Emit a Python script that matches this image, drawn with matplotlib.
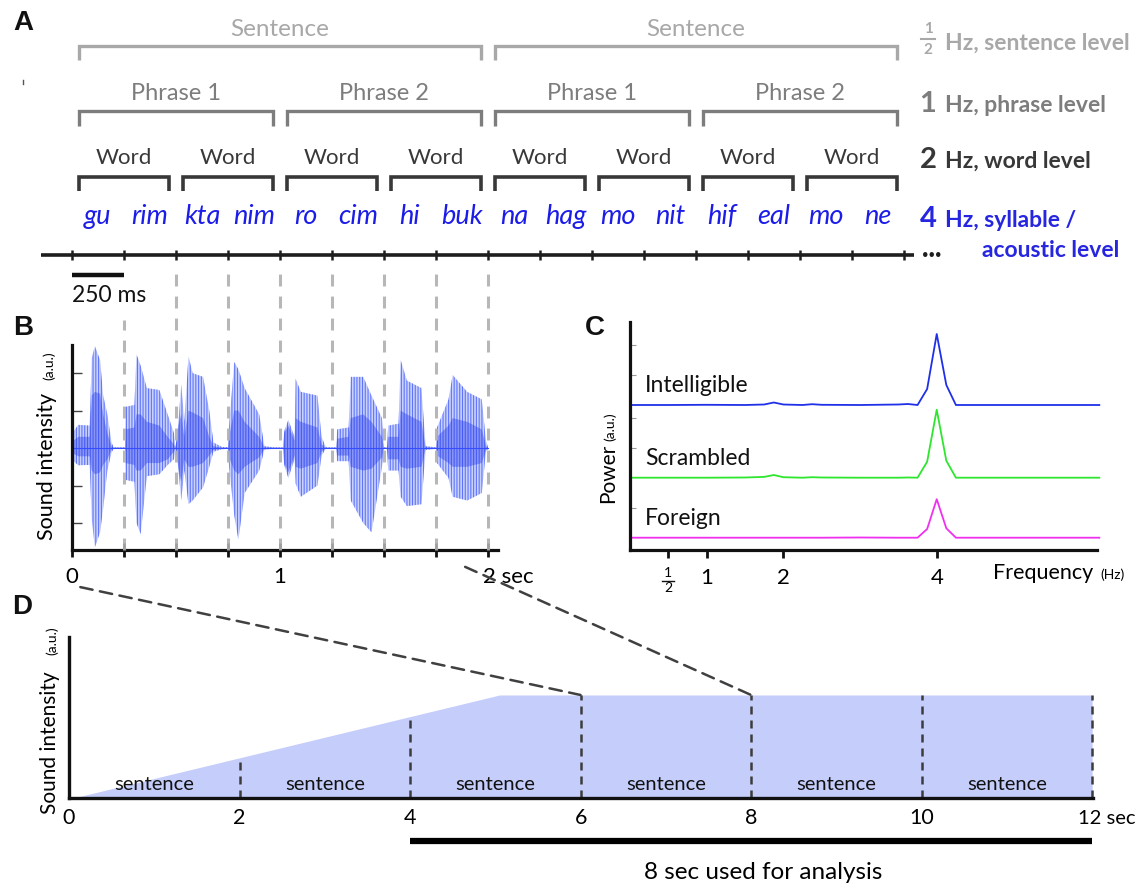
import numpy as np
import matplotlib
matplotlib.use("Agg")
import matplotlib.pyplot as plt
from matplotlib.patches import ConnectionPatch
from matplotlib.lines import Line2D

plt.rcParams['font.family'] = ['Lato', 'DejaVu Sans']
plt.rcParams['hatch.linewidth'] = 0.8

# ---------------- Panel A data ----------------
syllables = ['gu', 'rim', 'kta', 'nim', 'ro', 'cim', 'hi', 'buk',
             'na', 'hag', 'mo', 'nit', 'hif', 'eal', 'mo', 'ne']
syllable_onsets = [0.0, 0.25, 0.5, 0.75, 1.0, 1.25, 1.5, 1.75,
                   2.0, 2.25, 2.5, 2.75, 3.0, 3.25, 3.5, 3.75]
syllable_bounds = [0.0, 0.25, 0.5, 0.75, 1.0, 1.25, 1.5, 1.75, 2.0,
                   2.25, 2.5, 2.75, 3.0, 3.25, 3.5, 3.75, 4.0]
word_bounds = [0.0, 0.5, 1.0, 1.5, 2.0, 2.5, 3.0, 3.5, 4.0]
word_labels = ['Word'] * 8
phrase_bounds = [0.0, 1.0, 2.0, 3.0, 4.0]
phrase_labels = ['Phrase 1', 'Phrase 2', 'Phrase 1', 'Phrase 2']
sentence_bounds = [0.0, 2.0, 4.0]
sentence_labels = ['Sentence', 'Sentence']
scale_bar_s = [0.0, 0.25]
scale_bar_label = '250 ms'

# ---------------- Panel B data (waveform envelope) ----------------
wave_t = [0.000, 0.008, 0.030, 0.085, 0.095, 0.110, 0.135, 0.150, 0.170, 0.190, 0.200,
          0.255, 0.258, 0.300, 0.310, 0.330, 0.360, 0.420, 0.460, 0.490, 0.497,
          0.505, 0.512, 0.525, 0.540, 0.560, 0.580, 0.630, 0.660, 0.680, 0.720,
          0.750, 0.755, 0.780, 0.800, 0.830, 0.900, 0.925, 0.970,
          1.015, 1.020, 1.040, 1.070, 1.075, 1.100, 1.180, 1.200, 1.220,
          1.270, 1.275, 1.330, 1.340, 1.400, 1.440, 1.490, 1.500,
          1.515, 1.520, 1.570, 1.580, 1.610, 1.680, 1.700,
          1.750, 1.755, 1.810, 1.830, 1.900, 1.970, 1.990, 2.000]
wave_hi = [0.02, 0.45, 0.62, 0.60, 2.40, 2.72, 2.35, 1.40, 0.90, 0.15, 0.02,
           0.02, 1.10, 1.15, 2.50, 2.20, 1.60, 1.55, 0.90, 0.40, 0.02,
           0.30, 0.70, 1.70, 0.70, 2.45, 2.00, 1.90, 1.00, 0.15, 0.03,
           0.02, 0.60, 2.30, 2.10, 1.60, 0.90, 0.05, 0.02,
           0.02, 0.45, 0.75, 0.30, 1.85, 1.50, 1.40, 0.30, 0.02,
           0.02, 0.50, 0.55, 1.90, 1.90, 1.40, 0.80, 0.02,
           0.02, 0.60, 0.65, 2.35, 1.80, 1.60, 0.05,
           0.02, 0.55, 1.30, 1.95, 1.50, 1.30, 0.20, 0.02]
wave_lo = [-0.02, -0.35, -0.46, -0.45, -1.90, -2.65, -2.25, -1.60, -0.60, -0.12, -0.02,
           -0.02, -0.85, -0.90, -2.00, -2.30, -0.75, -0.70, -0.45, -0.30, -0.02,
           -0.25, -0.60, -1.40, -0.60, -1.50, -1.40, -1.05, -0.50, -0.10, -0.03,
           -0.02, -0.50, -1.80, -2.45, -1.20, -0.60, -0.04, -0.02,
           -0.02, -0.45, -0.80, -0.30, -0.95, -1.30, -1.00, -0.20, -0.02,
           -0.02, -0.35, -0.35, -1.40, -2.00, -2.25, -0.50, -0.02,
           -0.02, -0.60, -0.60, -1.30, -1.55, -1.50, -0.05,
           -0.02, -0.40, -0.80, -1.30, -1.40, -1.20, -0.10, -0.02]
core_hi = [0.01, 0.20, 0.30, 0.30, 1.40, 1.50, 1.45, 0.90, 0.40, 0.05, 0.01,
           0.01, 0.50, 0.55, 0.90, 0.90, 0.70, 0.60, 0.30, 0.10, 0.01,
           0.25, 0.60, 0.90, 0.30, 1.00, 0.95, 0.80, 0.30, 0.05, 0.01,
           0.01, 0.30, 1.00, 1.00, 0.70, 0.30, 0.02, 0.01,
           0.01, 0.40, 0.60, 0.20, 0.80, 0.70, 0.55, 0.10, 0.01,
           0.01, 0.25, 0.30, 0.80, 0.90, 0.70, 0.30, 0.01,
           0.01, 0.30, 0.30, 1.00, 0.90, 0.70, 0.02,
           0.01, 0.30, 0.60, 0.80, 0.70, 0.50, 0.05, 0.01]
core_lo = [-0.01, -0.15, -0.22, -0.22, -0.60, -0.70, -0.65, -0.45, -0.30, -0.05, -0.01,
           -0.01, -0.40, -0.45, -0.60, -0.60, -0.40, -0.40, -0.30, -0.10, -0.01,
           -0.20, -0.55, -0.90, -0.30, -0.50, -0.50, -0.40, -0.20, -0.05, -0.01,
           -0.01, -0.25, -0.60, -0.70, -0.50, -0.25, -0.02, -0.01,
           -0.01, -0.40, -0.65, -0.20, -0.50, -0.55, -0.40, -0.10, -0.01,
           -0.01, -0.20, -0.20, -0.50, -0.60, -0.55, -0.25, -0.01,
           -0.01, -0.30, -0.30, -0.50, -0.55, -0.50, -0.02,
           -0.01, -0.20, -0.40, -0.50, -0.50, -0.40, -0.05, -0.01]
b_ticks = [0.0, 0.25, 0.5, 0.75, 1.0, 1.25, 1.5, 1.75, 2.0]
b_tick_labels = ['0', '1', '2 sec']
b_tick_label_pos = [0.0, 1.0, 2.0]
b_dash_t = [0.25, 0.5, 0.75, 1.0, 1.25, 1.5, 1.75, 2.0]

# ---------------- Panel C data ----------------
freq_hz = [0.03, 0.5, 1.0, 1.5, 1.75, 1.875, 2.0, 2.25, 2.375, 2.5, 3.0, 3.5, 3.625,
           3.75, 3.875, 4.0, 4.125, 4.25, 5.0, 6.12]
power_intelligible = [0, 0, 0.02, 0, 0.05, 0.25, 0.05, 0, 0.08, 0.02, 0, 0.05, 0.1,
                      0, 1.6, 7.1, 2.0, 0, 0, 0]
power_scrambled = [0, 0, 0, 0.02, 0.08, 0.27, 0.05, 0, 0.05, 0.02, 0, 0, 0.02,
                   0, 1.6, 6.8, 1.7, 0, 0, 0]
power_foreign = [0, 0, 0, 0, 0, 0, 0, 0, 0, 0, 0.02, 0, 0,
                 0, 0.87, 3.85, 0.94, 0, 0, 0]
condition_names = ['Intelligible', 'Scrambled', 'Foreign']
condition_offsets = [14.5, 7.23, 1.23]
condition_colors = ['#2030e8', '#2ee62e', '#f030f0']
c_ticks = [0.5, 1.0, 2.0, 4.0]
c_tick_labels = ['1', '2', '4']
c_tick_label_pos = [1.0, 2.0, 4.0]

# ---------------- Panel D data ----------------
ramp_t = [0.05, 5.05, 12.0]
ramp_level = [0.0, 1.0, 1.0]
sentence_edges = [2, 4, 6, 8, 10, 12]
sentence_edge_height = [0.39, 0.79, 1.0, 1.0, 1.0, 1.0]
sentence_mids = [1, 3, 5, 7, 9, 11]
d_tick_pos = [0, 2, 4, 6, 8, 10]
d_tick_labels = ['0', '2', '4', '6', '8', '10']
analysis_window = [4, 12]

# ---------------- figure ----------------
W, H = 1138, 886
fig = plt.figure(figsize=(W / 100, H / 100), dpi=100)


def frect(l, t, r, b):
    return [l / W, 1 - b / H, (r - l) / W, (b - t) / H]


def ftext(x, y, s, **kw):
    return fig.text(x / W, 1 - y / H, s, **kw)


C_SENT = '#a8a8a8'
C_PHR = '#7d7d7d'
C_WORD = '#383838'
C_SYL = '#1c1ce8'
C_LAB_BLUE = '#2626e0'

# ---------- Panel A ----------
axA = fig.add_axes([0, 0, 1, 1])
axA.set_xlim(-72 / 208, (W - 72) / 208)
axA.set_ylim(H, 0)
axA.axis('off')
inset = 0.036


def bracket(t0, t1, ybar, depth, color, lw):
    axA.plot([t0 + inset, t0 + inset, t1 - inset, t1 - inset],
             [ybar + depth, ybar, ybar, ybar + depth], color=color, lw=lw,
             solid_joinstyle='miter', solid_capstyle='butt')


for i, lab in enumerate(sentence_labels):
    t0, t1 = sentence_bounds[i], sentence_bounds[i + 1]
    bracket(t0, t1, 46, 14, C_SENT, 2.4)
    axA.text((t0 + t1) / 2, 29, lab, ha='center', va='center', size=17.5, color=C_SENT)
for i, lab in enumerate(phrase_labels):
    t0, t1 = phrase_bounds[i], phrase_bounds[i + 1]
    bracket(t0, t1, 111, 15, C_PHR, 2.4)
    axA.text((t0 + t1) / 2, 93, lab, ha='center', va='center', size=17, color=C_PHR)
for i, lab in enumerate(word_labels):
    t0, t1 = word_bounds[i], word_bounds[i + 1]
    bracket(t0, t1, 177, 14, C_WORD, 2.6)
    axA.text((t0 + t1) / 2, 158, lab, ha='center', va='center', size=16, color=C_WORD)
for s, t0 in zip(syllables, syllable_onsets):
    axA.text(t0 + 0.125, 216, s, ha='center', va='center', size=19.5, style='italic', color=C_SYL)

axA.plot([-0.15, 4.05], [255, 255], color='#1e1e1e', lw=2.6, solid_capstyle='butt')
axA.vlines(syllable_bounds, 250, 260, color='#1e1e1e', lw=1.8)
axA.text(4.135, 254, '···', ha='center', va='center', size=17, weight='bold', color='#1e1e1e')
axA.plot(scale_bar_s, [275, 275], color='#111111', lw=3.2, solid_capstyle='butt')
axA.text(scale_bar_s[0], 296, scale_bar_label, ha='left', va='center', size=16.5, color='#111111')

# right-side level labels
ftext(928, 29, '1', ha='center', va='center', size=11, weight='bold', color=C_SENT)
fig.add_artist(Line2D([921 / W, 935 / W], [1 - 38.5 / H] * 2, color=C_SENT, lw=1.5))
ftext(928, 50, '2', ha='center', va='center', size=11, weight='bold', color=C_SENT)
ftext(945, 50, 'Hz, sentence level', ha='left', va='baseline', size=16.5, weight='bold', color=C_SENT)
ftext(928, 112, '1', ha='center', va='baseline', size=21, weight='bold', color=C_PHR)
ftext(945, 112, 'Hz, phrase level', ha='left', va='baseline', size=16.5, weight='bold', color=C_PHR)
ftext(928, 168, '2', ha='center', va='baseline', size=21, weight='bold', color=C_WORD)
ftext(945, 168, 'Hz, word level', ha='left', va='baseline', size=16.5, weight='bold', color=C_WORD)
ftext(928, 227, '4', ha='center', va='baseline', size=21, weight='bold', color=C_LAB_BLUE)
ftext(945, 227, 'Hz, syllable /', ha='left', va='baseline', size=16.5, weight='bold', color=C_LAB_BLUE)
ftext(982, 257, 'acoustic level', ha='left', va='baseline', size=16.5, weight='bold', color=C_LAB_BLUE)
fig.add_artist(Line2D([23 / W] * 2, [1 - 80 / H, 1 - 84 / H], color='#555555', lw=1))

# panel letters
for letter, (x, y) in zip('ABCD', [(23, 23), (23, 328), (595, 328), (22, 607)]):
    ftext(x, y, letter, ha='center', va='center', size=20, weight='bold',
          family='Liberation Sans', color='#111111')

# ---------- Panel B ----------
axB = fig.add_axes(frect(72, 345, 498, 550))
axB.set_xlim(0, 2.048)
axB.set_ylim(-2.72, 2.75)
axB.patch.set_alpha(0)
for sp in ['top', 'right']:
    axB.spines[sp].set_visible(False)
for sp in ['left', 'bottom']:
    axB.spines[sp].set_linewidth(2.3)
    axB.spines[sp].set_color('#111111')
axB.fill_between(wave_t, wave_lo, wave_hi, facecolor=(0.35, 0.45, 1.0, 0.32),
                 edgecolor=(0.2, 0.3, 0.97, 0.7), hatch='||||||', lw=0)
axB.fill_between(wave_t, core_lo, core_hi, facecolor=(0.12, 0.20, 0.92, 0.38), lw=0)
axB.plot([wave_t[0], wave_t[-1]], [0, 0], color=(0.2, 0.3, 1.0), lw=0.8)
dash_tops = [3.41] + [4.88] * (len(b_dash_t) - 1)
axB.vlines(b_dash_t, -2.72, dash_tops, colors='#b0b0b0', lw=2.2, alpha=0.9,
           linestyles=[(0, (3.9, 3.3))], clip_on=False, zorder=3)
axB.set_xticks(b_ticks)
axB.set_xticklabels([])
axB.tick_params(axis='x', direction='inout', length=10, width=2, color='#111111')
axB.set_yticks([-2, -1, 1, 2])
axB.set_yticklabels([])
axB.tick_params(axis='y', direction='in', length=7, width=1, color='#444444')
for lab, t in zip(b_tick_labels, b_tick_label_pos):
    if ' ' in lab:
        axB.text(t - 0.026, -3.44, lab, ha='left', va='center', size=16, clip_on=False)
    else:
        axB.text(t, -3.44, lab, ha='center', va='center', size=16, clip_on=False)
ftext(53, 540, 'Sound intensity', rotation=90, rotation_mode='anchor', ha='left', va='baseline', size=15.5)
ftext(53, 380, '(a.u.)', rotation=90, rotation_mode='anchor', ha='left', va='baseline', size=10)

# ---------- Panel C ----------
axC = fig.add_axes(frect(630, 322, 1097, 550))
axC.set_xlim(0, 6.09)
axC.set_ylim(0, 22.8)
axC.patch.set_alpha(0)
for sp in ['top', 'right']:
    axC.spines[sp].set_visible(False)
for sp in ['left', 'bottom']:
    axC.spines[sp].set_linewidth(2.3)
    axC.spines[sp].set_color('#111111')
for p, off, col, name in zip([power_intelligible, power_scrambled, power_foreign],
                             condition_offsets, condition_colors, condition_names):
    axC.plot(freq_hz, np.array(p) + off, color=col, lw=1.3, clip_on=False)
    axC.text(0.2, off + 1.95, name, ha='left', va='center', size=16.5, color='#111111')
axC.set_xticks(c_ticks)
axC.set_xticklabels([])
axC.tick_params(axis='x', direction='out', length=6, width=2, color='#111111')
axC.set_yticks([4.2, 10.2, 13.2, 17.5, 20.5])
axC.set_yticklabels([])
axC.tick_params(axis='y', direction='in', length=4, width=0.8, color='#999999')
for lab, f in zip(c_tick_labels, c_tick_label_pos):
    axC.text(f, -2.75, lab, ha='center', va='center', size=16, clip_on=False)
axC.text(0.5, -2.3, '1', ha='center', va='center', size=10, clip_on=False)
axC.plot([0.42, 0.58], [-3.05, -3.05], color='#111111', lw=1, clip_on=False)
axC.text(0.5, -3.85, '2', ha='center', va='center', size=10, clip_on=False)
axC.text(4.73, -2.3, 'Frequency', ha='left', va='center', size=15.5, clip_on=False)
axC.text(6.13, -2.45, '(Hz)', ha='left', va='center', size=10, clip_on=False)
ftext(614, 503, 'Power', rotation=90, rotation_mode='anchor', ha='left', va='baseline', size=15)
ftext(614, 441, '(a.u.)', rotation=90, rotation_mode='anchor', ha='left', va='baseline', size=10)

# ---------- Panel D ----------
axD = fig.add_axes(frect(69, 637, 1093, 798))
axD.set_xlim(0, 12.01)
axD.set_ylim(0, 1.563)
axD.patch.set_alpha(0)
for sp in ['top', 'right']:
    axD.spines[sp].set_visible(False)
for sp in ['left', 'bottom']:
    axD.spines[sp].set_linewidth(2.4)
    axD.spines[sp].set_color('#111111')
axD.fill_between(ramp_t, 0, ramp_level, color='#c5cdfa', lw=0)
axD.vlines(sentence_edges, 0, sentence_edge_height, colors='#3c3c3c', lw=1.8,
           linestyles=[(0, (3.2, 2.4))], clip_on=False)
for m in sentence_mids:
    axD.text(m, 0.13, 'sentence', ha='center', va='center', size=14.5, color='#111111')
axD.set_xticks([])
axD.set_yticks([])
for lab, t in zip(d_tick_labels, d_tick_pos):
    axD.text(t, -0.195, lab, ha='center', va='center', size=15.5, clip_on=False)
axD.text(11.83, -0.195, '12 sec', ha='left', va='center', size=14.5, clip_on=False)
axD.plot(analysis_window, [-0.415, -0.415], color='black', lw=4.5,
         solid_capstyle='butt', clip_on=False)
axD.text(8.14, -0.72, '8 sec used for analysis', ha='center', va='center', size=17.5, clip_on=False)
ftext(56, 814, 'Sound intensity', rotation=90, rotation_mode='anchor', ha='left', va='baseline', size=15)
ftext(56, 655, '(a.u.)', rotation=90, rotation_mode='anchor', ha='left', va='baseline', size=10)

# connectors B -> D
for (ta, va_), tb in zip([(0.04, -3.71), (1.89, -3.17)], [6, 8]):
    con = ConnectionPatch(xyA=(ta, va_), coordsA=axB.transData,
                          xyB=(tb, 1.0), coordsB=axD.transData,
                          color='#404040', lw=1.8, linestyle=(0, (5, 3)))
    fig.add_artist(con)

fig.savefig('out.png', dpi=100)
